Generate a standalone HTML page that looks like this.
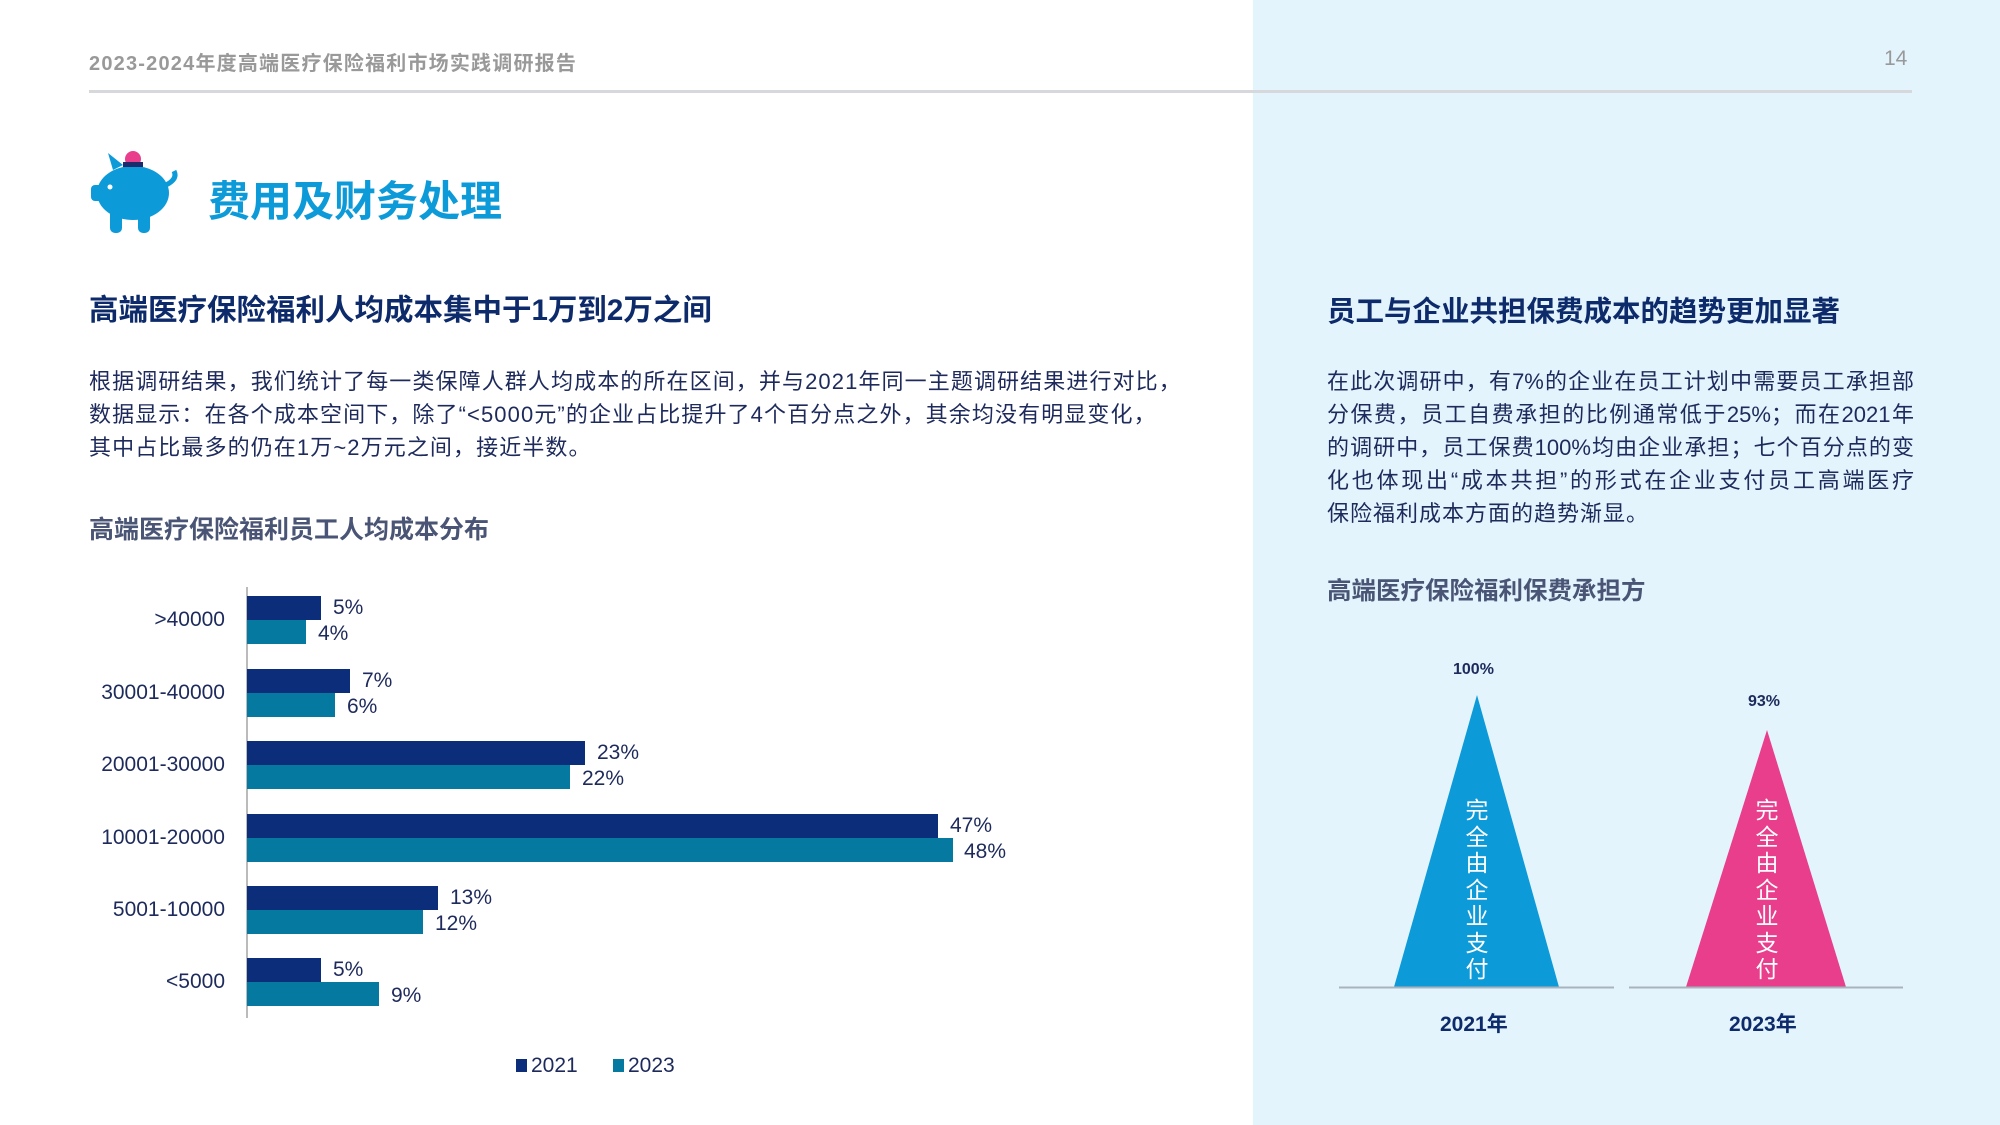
<!DOCTYPE html>
<html><head><meta charset="utf-8"><style>
*{margin:0;padding:0;box-sizing:border-box}
body{width:2000px;height:1125px;position:relative;background:#fff;font-family:"Liberation Sans","Noto Sans CJK SC",sans-serif;overflow:hidden}
.a{position:absolute;white-space:nowrap}
.rp{position:absolute;left:1253px;top:0;width:747px;height:1125px;background:#e3f4fd}
.p{font-size:22px;color:#1d2a5b;line-height:33px;letter-spacing:1.1px}
.bar{position:absolute;left:247px;height:24px}
.c1{background:#0b2d7a}.c2{background:#05799f}
.lab{position:absolute;font-size:21px;color:#1d2a5b;line-height:24px}
.cat{position:absolute;right:1775px;font-size:21px;color:#1d2a5b;text-align:right;line-height:26px}
.rl{position:absolute;left:1327px;width:587px;font-size:22px;color:#1d2a5b;text-align:justify;text-align-last:justify;white-space:nowrap;line-height:33px}
.vt{position:absolute;width:30px;font-size:23px;color:#fff;line-height:26.5px;text-align:center;white-space:normal}
</style></head><body>
<div class="rp"></div>
<div class="a" style="left:89px;top:47px;font-size:20px;color:#999;letter-spacing:1.2px;font-weight:bold">2023-2024年度高端医疗保险福利市场实践调研报告</div>
<div class="a" style="left:1884px;top:47px;font-size:21px;color:#999">14</div>
<div style="position:absolute;left:89px;top:90px;width:1823px;height:3px;background:#d6d8dc"></div>
<svg style="position:absolute;left:88px;top:145px" width="95" height="90" viewBox="0 0 95 90">
<ellipse cx="45" cy="48" rx="36" ry="27" fill="#0d9ad9"/>
<rect x="3" y="40" width="14" height="16" rx="4" fill="#0d9ad9"/>
<rect x="22" y="60" width="12" height="28" rx="5" fill="#0d9ad9"/>
<rect x="50" y="60" width="12" height="28" rx="5" fill="#0d9ad9"/>
<path d="M78 40 q12 -6 8 -14" stroke="#0d9ad9" stroke-width="5" fill="none"/>
<path d="M25 25 L20 8 L35 20Z" fill="#0d9ad9"/>
<circle cx="45" cy="14" r="8" fill="#e83e8c"/>
<rect x="35" y="17" width="20" height="5" fill="#1d2a6b"/>
<circle cx="22" cy="42" r="2.5" fill="#fff"/>
</svg>
<div class="a" style="left:208px;top:168px;font-size:42px;font-weight:bold;color:#0d9ad9">费用及财务处理</div>
<div class="a" style="left:89px;top:287px;font-size:29.5px;font-weight:bold;color:#0d2a6b">高端医疗保险福利人均成本集中于1万到2万之间</div>
<div class="a p" style="left:89px;top:365px">根据调研结果，我们统计了每一类保障人群人均成本的所在区间，并与2021年同一主题调研结果进行对比，<br>数据显示：在各个成本空间下，除了“&lt;5000元”的企业占比提升了4个百分点之外，其余均没有明显变化，<br>其中占比最多的仍在1万~2万元之间，接近半数。</div>
<div class="a" style="left:89px;top:510px;font-size:25px;font-weight:bold;color:#4a5575">高端医疗保险福利员工人均成本分布</div>
<div style="position:absolute;left:246px;top:587px;width:2px;height:431px;background:#bbb"></div>

<div class="cat" style="top:607px">&gt;40000</div>
<div class="bar c1" style="top:596px;width:74px"></div><div class="lab" style="left:333px;top:596px">5%</div>
<div class="bar c2" style="top:620px;width:59px"></div><div class="lab" style="left:318px;top:622px">4%</div>

<div class="cat" style="top:680px">30001-40000</div>
<div class="bar c1" style="top:669px;width:103px"></div><div class="lab" style="left:362px;top:669px">7%</div>
<div class="bar c2" style="top:693px;width:88px"></div><div class="lab" style="left:347px;top:695px">6%</div>

<div class="cat" style="top:752px">20001-30000</div>
<div class="bar c1" style="top:741px;width:338px"></div><div class="lab" style="left:597px;top:741px">23%</div>
<div class="bar c2" style="top:765px;width:323px"></div><div class="lab" style="left:582px;top:767px">22%</div>

<div class="cat" style="top:825px">10001-20000</div>
<div class="bar c1" style="top:814px;width:691px"></div><div class="lab" style="left:950px;top:814px">47%</div>
<div class="bar c2" style="top:838px;width:706px"></div><div class="lab" style="left:964px;top:840px">48%</div>

<div class="cat" style="top:897px">5001-10000</div>
<div class="bar c1" style="top:886px;width:191px"></div><div class="lab" style="left:450px;top:886px">13%</div>
<div class="bar c2" style="top:910px;width:176px"></div><div class="lab" style="left:435px;top:912px">12%</div>

<div class="cat" style="top:969px">&lt;5000</div>
<div class="bar c1" style="top:958px;width:74px"></div><div class="lab" style="left:333px;top:958px">5%</div>
<div class="bar c2" style="top:982px;width:132px"></div><div class="lab" style="left:391px;top:984px">9%</div>

<div style="position:absolute;left:516px;top:1059px;width:11px;height:13px;background:#0b2d7a"></div>
<div class="lab" style="left:531px;top:1054px">2021</div>
<div style="position:absolute;left:613px;top:1059px;width:11px;height:13px;background:#05799f"></div>
<div class="lab" style="left:628px;top:1054px">2023</div>

<div class="a" style="left:1327px;top:289px;font-size:28.5px;font-weight:bold;color:#0d2a6b">员工与企业共担保费成本的趋势更加显著</div>
<div class="rl" style="top:365px">在此次调研中，有7%的企业在员工计划中需要员工承担部</div>
<div class="rl" style="top:398px">分保费，员工自费承担的比例通常低于25%；而在2021年</div>
<div class="rl" style="top:431px">的调研中，员工保费100%均由企业承担；七个百分点的变</div>
<div class="rl" style="top:464px">化也体现出“成本共担”的形式在企业支付员工高端医疗</div>
<div class="a" style="left:1327px;top:497px;font-size:22px;color:#1d2a5b;line-height:33px;letter-spacing:1px">保险福利成本方面的趋势渐显。</div>
<div class="a" style="left:1327px;top:572px;font-size:24.5px;font-weight:bold;color:#4a5575">高端医疗保险福利保费承担方</div>

<svg style="position:absolute;left:0;top:0" width="2000" height="1125">
<polygon points="1477,695 1394,987 1559,987" fill="#0d9ad9"/>
<polygon points="1767,730 1686,987 1846,987" fill="#e83e8c"/>
<line x1="1339" y1="987.5" x2="1614" y2="987.5" stroke="#a9b3bd" stroke-width="2"/>
<line x1="1629" y1="987.5" x2="1903" y2="987.5" stroke="#a9b3bd" stroke-width="2"/>
</svg>
<div class="a" style="left:1453px;top:661px;font-size:16px;font-weight:bold;color:#1d2a5b">100%</div>
<div class="a" style="left:1748px;top:693px;font-size:16px;font-weight:bold;color:#1d2a5b">93%</div>
<div class="vt" style="left:1462px;top:797px">完全由企业支付</div>
<div class="vt" style="left:1752px;top:797px">完全由企业支付</div>
<div class="a" style="left:1440px;top:1008px;font-size:21px;font-weight:bold;color:#0d2a6b">2021年</div>
<div class="a" style="left:1729px;top:1008px;font-size:21px;font-weight:bold;color:#0d2a6b">2023年</div>
</body></html>
